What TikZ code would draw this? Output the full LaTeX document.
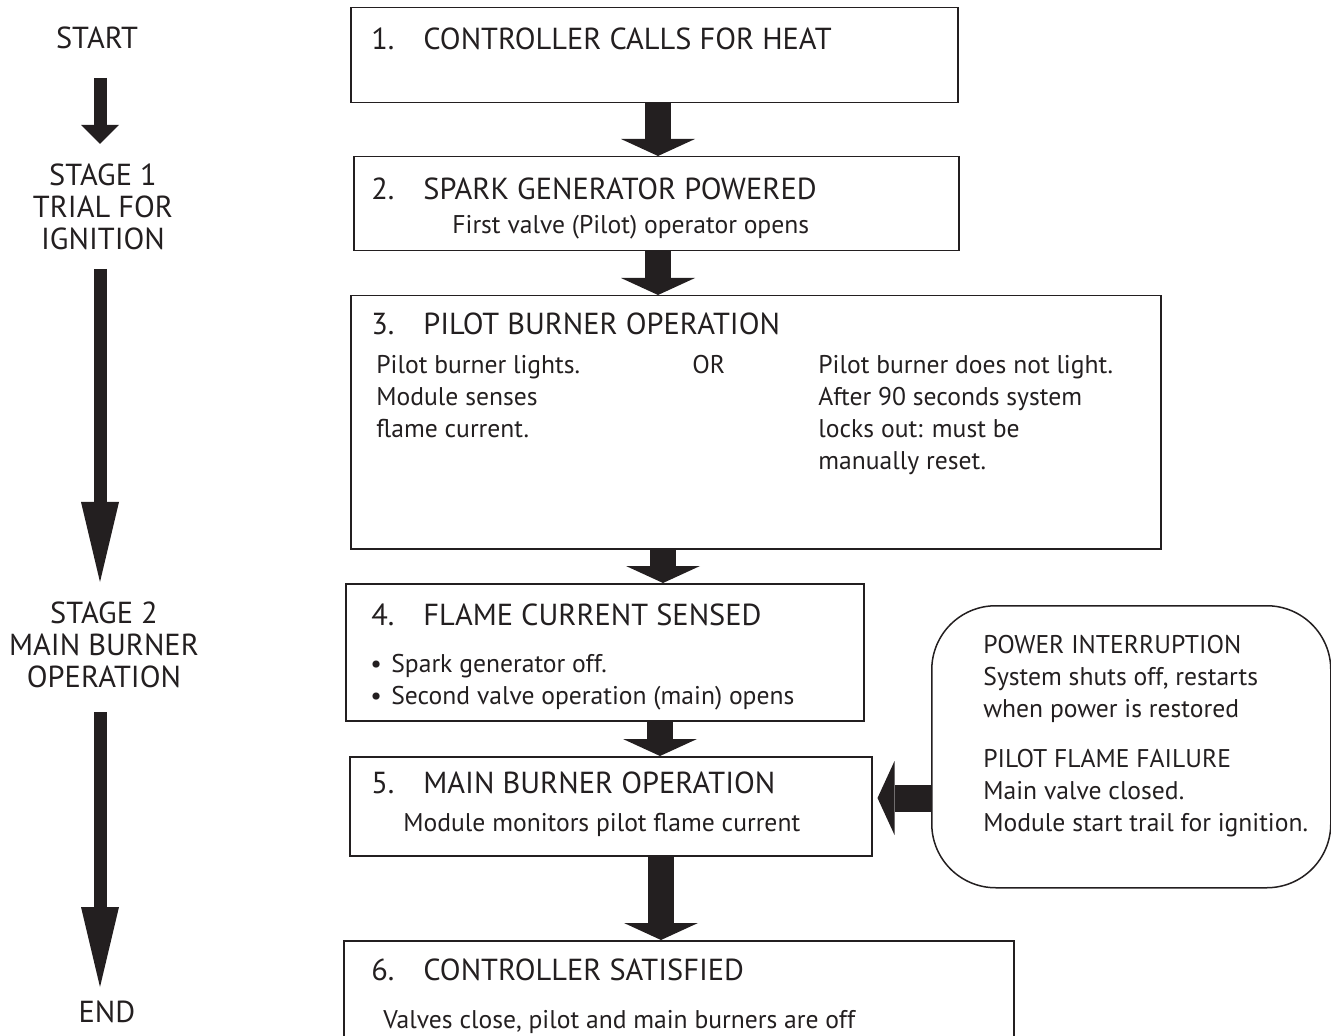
\documentclass[tikz,border=0pt]{standalone}
\usepackage{fontspec}
\setmainfont{PT Sans}
\usetikzlibrary{arrows.meta}
\definecolor{ink}{HTML}{231F20}

\tikzset{
  stepbox/.style={draw=ink,line width=0.75pt,inner sep=0pt,anchor=north west},
  notebox/.style={stepbox,rounded corners=32pt},
  headtxt/.style={text=ink,inner sep=0pt,anchor=base west,font=\fontsize{15.2}{16}\selectfont},
  bodytxt/.style={text=ink,inner sep=0pt,anchor=base west,align=left,font=\fontsize{12.8}{16}\selectfont},
  stagetxt/.style={text=ink,inner sep=0pt,anchor=base,align=center,font=\fontsize{15.2}{16}\selectfont},
  flowarrow/.style={draw=ink,line width=13pt,-{Triangle[length=8.5pt,width=37pt,line width=0pt]}},
  stagearrow/.style={draw=ink,line width=6.5pt,-{Triangle[length=#1,width=19pt,line width=0pt]}},
}

\begin{document}
\begin{tikzpicture}[x=0.5pt,y=-0.5pt]
	\useasboundingbox (0,0) rectangle (1331,1036);
	
	% stages on the left (multi-line nodes sit on their last line)
	\node[stagetxt] (start) at (97,49) {START};
	\node[stagetxt] (stg1) at (103,250) {STAGE 1\\TRIAL FOR\\IGNITION};
	\node[stagetxt] (stg2) at (104,687) {STAGE 2\\MAIN BURNER\\OPERATION};
	\node[stagetxt] (fin) at (107,1022) {END};
	
	\coordinate (ga) at (100,78);
	\coordinate (gb) at (100,144);
	\coordinate (gc) at (100,269);
	\coordinate (gd) at (100,582);
	\coordinate (ge) at (100,712);
	\coordinate (gf) at (100,987);
	\draw[stagearrow=9.5pt] (ga) -- (gb);
	\draw[stagearrow=40pt] (gc) -- (gd);
	\draw[stagearrow=40pt] (ge) -- (gf);
	
	% boxes
	\node[stepbox,minimum width=303.5pt,minimum height=47.5pt] (b1) at (350,7) {};
	\node[stepbox,minimum width=302.5pt,minimum height=47pt] (b2) at (353,156) {};
	\node[stepbox,minimum width=405pt,minimum height=126.5pt] (b3) at (350,295) {};
	\node[stepbox,minimum width=259pt,minimum height=68.5pt] (b4) at (345,583) {};
	\node[stepbox,minimum width=261pt,minimum height=49.5pt] (b5) at (349,756) {};
	\node[stepbox,minimum width=335pt,minimum height=60pt] (b6) at (343,940) {};
	\node[notebox,minimum width=199.5pt,minimum height=141pt] (note) at (931,605) {};
	
	% texts
	\node[headtxt] (h1) at (371,50) {\makebox[26pt][l]{1.}CONTROLLER CALLS FOR HEAT};
	
	\node[headtxt] (h2) at (371,200) {\makebox[26pt][l]{2.}SPARK GENERATOR POWERED};
	\node[bodytxt] (t2) at (452,234) {First valve (Pilot) operator opens};
	
	\node[headtxt] (h3) at (371,335) {\makebox[26pt][l]{3.}PILOT BURNER OPERATION};
	\node[bodytxt] (t3a) at (376,438) {Pilot burner lights.\\Module senses\\flame current.};
	\node[bodytxt] (t3b) at (692,374) {OR};
	\node[bodytxt] (t3c) at (818,470) {Pilot burner does not light.\\After 90 seconds system\\locks out: must be\\manually reset.};
	
	\node[headtxt] (h4) at (371,625) {\makebox[26pt][l]{4.}FLAME CURRENT SENSED};
	\node[bodytxt] (t4) at (370,704) {\makebox[10.5pt][l]{•}Spark generator off.\\\makebox[10.5pt][l]{•}Second valve operation (main) opens};
	
	\node[headtxt] (h5) at (371,793) {\makebox[26pt][l]{5.}MAIN BURNER OPERATION};
	\node[bodytxt] (t5) at (403,831) {Module monitors pilot flame current};
	
	\node[headtxt] (h6) at (371,980) {\makebox[26pt][l]{6.}CONTROLLER SATISFIED};
	\node[bodytxt] (t6) at (383,1028) {Valves close, pilot and main burners are off};
	
	\node[bodytxt] (tn) at (983,831) {POWER INTERRUPTION\\System shuts off, restarts\\when power is restored\\[9pt]PILOT FLAME FAILURE\\Main valve closed.\\Module start trail for ignition.};
	
	% block arrows between the boxes
	\coordinate (ax1) at (658,0);
	\coordinate (ax3) at (663,0);
	\coordinate (ax4) at (660,0);
	\coordinate (ax5) at (661,0);
	\draw[flowarrow] (b1.south -| ax1) -- (b2.north -| ax1);
	\draw[flowarrow] (b2.south -| ax1) -- (b3.north -| ax1);
	\draw[flowarrow] (b3.south -| ax3) -- (b4.north -| ax3);
	\draw[flowarrow] (b4.south -| ax4) -- (b5.north -| ax4);
	\draw[flowarrow] (b5.south -| ax5) -- (b6.north -| ax5);
	
	\coordinate (ay) at (0,798);
	\draw[flowarrow,line width=13.5pt,shorten >=2.5pt] (note.west |- ay) -- (b5.east |- ay);
\end{tikzpicture}
\end{document}
